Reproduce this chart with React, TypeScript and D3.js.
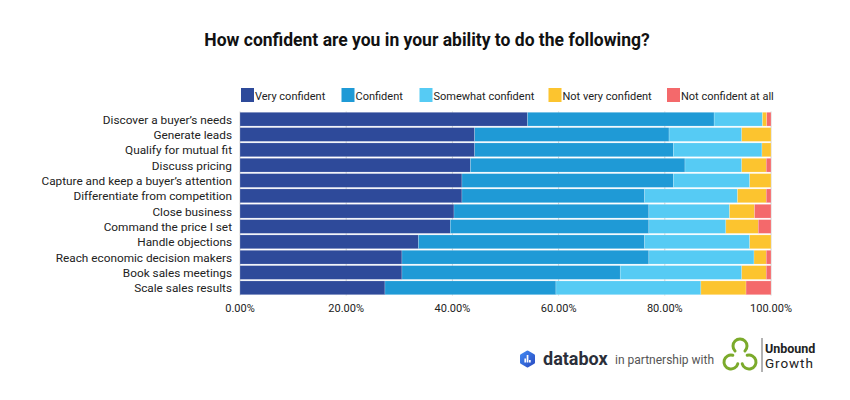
import React from "react";
import * as d3 from "d3";

const categories = [
  "Discover a buyer’s needs",
  "Generate leads",
  "Qualify for mutual fit",
  "Discuss pricing",
  "Capture and keep a buyer’s attention",
  "Differentiate from competition",
  "Close business",
  "Command the price I set",
  "Handle objections",
  "Reach economic decision makers",
  "Book sales meetings",
  "Scale sales results",
];

const seriesNames = [
  "Very confident",
  "Confident",
  "Somewhat confident",
  "Not very confident",
  "Not confident at all",
];

const veryConfident = [54.1, 44.2, 44.2, 43.4, 41.8, 41.8, 40.3, 39.6, 33.6, 30.5, 30.5, 27.3];
const confident = [35.1, 36.6, 37.4, 40.4, 39.8, 34.4, 36.7, 37.4, 42.6, 46.5, 41.1, 32.2];
const somewhatConfident = [9.1, 13.7, 16.7, 10.7, 14.4, 17.5, 15.2, 14.5, 19.8, 19.8, 22.9, 27.3];
const notVeryConfident = [0.8, 5.5, 1.7, 4.6, 4.0, 5.4, 4.7, 6.1, 4.0, 2.3, 4.6, 8.5];
const notConfidentAtAll = [0.8, 0, 0, 0.9, 0, 0.9, 3.1, 2.4, 0, 0.9, 0.9, 4.7];

const xTicks = [0, 20, 40, 60, 80, 100];

const colors = ["#2E4A9A", "#1F9AD6", "#56CBF4", "#FCC42F", "#F4696B"];

function openCircle(cx: number, cy: number, r: number, gapDeg: number, half: number) {
  const a0 = ((gapDeg + half) * Math.PI) / 180;
  const a1 = ((gapDeg - half + 360) * Math.PI) / 180;
  const p0 = [cx + r * Math.cos(a0), cy + r * Math.sin(a0)];
  const p1 = [cx + r * Math.cos(a1), cy + r * Math.sin(a1)];
  return `M${p0[0]},${p0[1]} A${r},${r} 0 1 1 ${p1[0]},${p1[1]}`;
}

export default function App() {
  const width = 850;
  const height = 400;
  const left = 240;
  const right = 771;
  const top = 111.5;
  const bottom = 295.5;

  const allSeries = [veryConfident, confident, somewhatConfident, notVeryConfident, notConfidentAtAll];
  const rows = categories.map((c, i) => {
    const vals = allSeries.map((s) => s[i]);
    const total = d3.sum(vals);
    const out: Record<string, number | string> = { category: c };
    seriesNames.forEach((n, k) => (out[n] = (vals[k] / total) * 100));
    return out;
  });
  const stacked = d3.stack<any>().keys(seriesNames)(rows);

  const x = d3.scaleLinear().domain([0, 100]).range([left, right]);
  const y = d3.scaleBand().domain(categories).range([top, bottom]).paddingInner(0.1).paddingOuter(0.05);

  const legendTextX = [255, 355.5, 433.5, 562.5, 681];
  const font = "Roboto, 'Noto Sans', sans-serif";

  // trefoil logo geometry
  const tc = [740, 356.5];
  const circ = [
    { cx: 740, cy: 346, gap: 90 },
    { cx: 731, cy: 362, gap: -30 },
    { cx: 749, cy: 362, gap: 210 },
  ];

  return (
    <svg width={width} height={height} style={{ display: "block", position: "absolute", left: 0, top: 0 }} fontFamily={font}>
      <defs>
        <linearGradient id="dbx" x1="0" y1="0" x2="1" y2="1">
          <stop offset="0%" stopColor="#3F86F0" />
          <stop offset="100%" stopColor="#2C4FC4" />
        </linearGradient>
      </defs>
      <rect x={0} y={0} width={width} height={height} fill="#fff" />
      <text x={427} y={46} textAnchor="middle" fontSize={17.5} fontWeight="bold" fill="#111">
        How confident are you in your ability to do the following?
      </text>

      {seriesNames.map((n, i) => (
        <g key={n}>
          <rect x={legendTextX[i] - 14} y={88} width={13} height={14} fill={colors[i]} />
          <text x={legendTextX[i]} y={99.5} fontSize={11} fill="#222">
            {n}
          </text>
        </g>
      ))}

      {xTicks.map((t) => (
        <line key={t} x1={x(t)} x2={x(t)} y1={top} y2={bottom} stroke="#d0d0d0" strokeWidth={1} />
      ))}

      {stacked.map((layer, k) => (
        <g key={layer.key} fill={colors[k]}>
          {layer.map((d, i) => {
            const w = x(d[1]) - x(d[0]);
            if (w <= 0) return null;
            return (
              <rect
                key={i}
                x={x(d[0])}
                y={y(categories[i])!}
                width={w}
                height={y.bandwidth()}
                stroke="#ffffff"
                strokeOpacity={0.4}
                strokeWidth={0.5}
              />
            );
          })}
        </g>
      ))}

      {categories.map((c) => (
        <text key={c} x={232} y={y(c)! + y.bandwidth() / 2 + 4.5} textAnchor="end" fontSize={11.8} fill="#222">
          {c}
        </text>
      ))}

      {xTicks.map((t) => (
        <text key={t} x={x(t)} y={312} textAnchor="middle" fontSize={11} fill="#222">
          {d3.format(".2f")(t)}%
        </text>
      ))}

      {/* databox logo */}
      <g>
        <path
          d="M527.5,352 L533.5,355.5 L533.5,362.5 L527.5,366 L521.5,362.5 L521.5,355.5 Z"
          fill="url(#dbx)"
          stroke="url(#dbx)"
          strokeWidth={3}
          strokeLinejoin="round"
        />
        <rect x={524.4} y={358.5} width={1.7} height={4} fill="#fff" />
        <rect x={526.7} y={355} width={1.7} height={7.5} fill="#fff" />
        <rect x={529} y={360} width={1.7} height={2.5} fill="#fff" />
        <text x={543} y={365} fontSize={18} fontWeight="bold" fill="#2B2F3A">
          databox
        </text>
        <text x={615} y={364} fontSize={12} fill="#555">
          in partnership with
        </text>
      </g>

      {/* Unbound Growth logo */}
      <g fill="none" stroke="#7BAA2B" strokeWidth={3} strokeLinecap="round">
        {circ.map((c, i) => (
          <path key={i} d={openCircle(c.cx, c.cy, 7, c.gap, 45)} />
        ))}
      </g>
      <circle cx={tc[0]} cy={tc[1]} r={0} fill="none" />
      <line x1={762} x2={762} y1={338} y2={372} stroke="#666" strokeWidth={1} />
      <text x={765} y={353} fontSize={12.5} fontWeight="bold" fill="#222">
        Unbound
      </text>
      <text x={765} y={368} fontSize={13.5} letterSpacing={0.9} fill="#222">
        Growth
      </text>
    </svg>
  );
}
